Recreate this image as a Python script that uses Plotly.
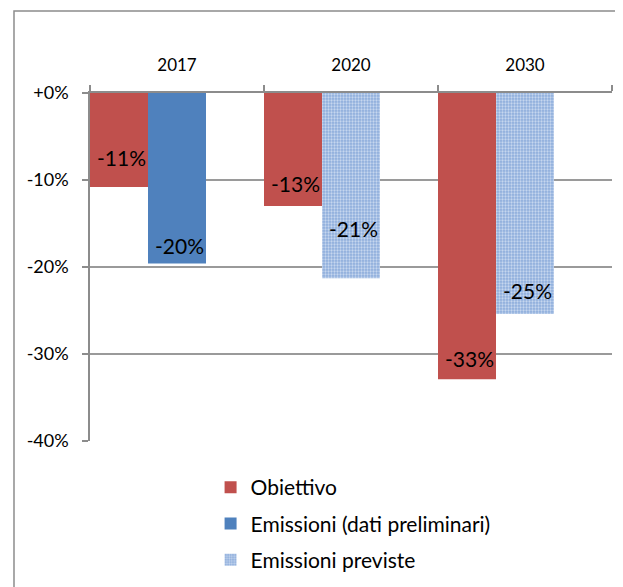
import plotly.graph_objects as go

categories = ["2017", "2020", "2030"]
obiettivo = [-10.8, -13.0, -32.9]
emissioni_prelim = [-19.6, None, None]
emissioni_previste = [None, -21.3, -25.4]
tick_values = [0, -10, -20, -30, -40]
tick_labels = ["+0%", "-10%", "-20%", "-30%", "-40%"]

RED = "#C0504D"
BLUE = "#4F81BD"
FONT = "Lato"
SLOT = 1 / 3

fig = go.Figure()
fig.add_trace(go.Bar(name="Obiettivo", x=categories, y=obiettivo,
                     width=SLOT, offset=-0.5,
                     marker=dict(color=RED, line=dict(width=0)), legendgroup="g1"))
fig.add_trace(go.Bar(name="Emissioni (dati preliminari)", x=categories, y=emissioni_prelim,
                     width=SLOT, offset=-0.5 + SLOT,
                     marker=dict(color=BLUE, line=dict(width=0)), legendgroup="g2"))
fig.add_trace(go.Bar(name="Emissioni previste", x=categories, y=emissioni_previste,
                     width=SLOT, offset=-0.5 + SLOT, legendgroup="g3",
                     marker=dict(color="#AFC5E5", line=dict(width=0),
                                 pattern=dict(shape=".", fgcolor="white", bgcolor="#8DADDC",
                                              size=3, solidity=0.45))))

# data labels (pixel offsets above the bar end)
label_shift = {0: [29, 23, 21], 1: [18, 0, 0], 2: [0, 50, 23]}
label_xoff = [-SLOT, 0, 0]
series = [obiettivo, emissioni_prelim, emissioni_previste]
for si, vals in enumerate(series):
    for ci, v in enumerate(vals):
        if v is None:
            continue
        fig.add_annotation(x=ci + label_xoff[si], y=v, xref="x", yref="y",
                           text=f"{round(v):d}%", showarrow=False,
                           xshift=2, yshift=label_shift[si][ci],
                           font=dict(family=FONT, size=21, color="black"))

# outer chart border
fig.add_shape(type="rect", xref="paper", yref="paper",
              x0=-0.1456, x1=1.2, y0=-0.6, y1=1.2356,
              line=dict(color="#8C8C8C", width=1.5), fillcolor="rgba(0,0,0,0)", layer="below")

fig.update_layout(
    width=623, height=587,
    margin=dict(l=82, r=19, t=85, b=154),
    paper_bgcolor="white", plot_bgcolor="white",
    barmode="overlay",
    font=dict(family=FONT, size=17, color="black"),
    showlegend=True,
    legend=dict(x=0.231, y=-0.075, xanchor="left", yanchor="top",
                orientation="v", traceorder="grouped", tracegroupgap=6,
                font=dict(family=FONT, size=21, color="black"),
                bgcolor="rgba(0,0,0,0)"),
    xaxis=dict(side="top", type="category", range=[-0.5, 2.5], showgrid=False, showline=True,
               linecolor="#8C8C8C", linewidth=1.5, ticks="outside", tickson="boundaries",
               ticklen=6, tickcolor="#8C8C8C", tickwidth=1.5, ticklabelstandoff=13,
               tickfont=dict(family=FONT, size=17, color="black"), fixedrange=True),
    yaxis=dict(range=[-40, 0], tickvals=tick_values, ticktext=tick_labels,
               showgrid=True, gridcolor="#9A9A9A", gridwidth=1.5, zeroline=False,
               showline=True, linecolor="#8C8C8C", linewidth=1.5,
               ticks="outside", ticklen=6, tickcolor="#8C8C8C", tickwidth=1.5,
               ticklabelstandoff=10,
               tickfont=dict(family=FONT, size=18, color="black"), fixedrange=True),
)

fig.write_html("out.html")
